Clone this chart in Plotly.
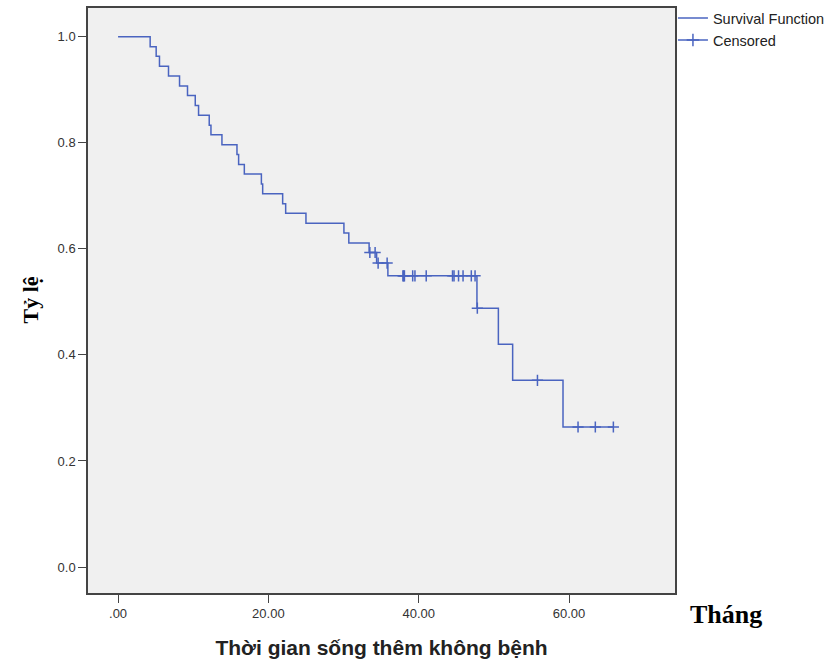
import plotly.graph_objects as go

# Kaplan-Meier step curve (time in months, survival proportion)
step_times = [0, 4.27, 5.07, 5.51, 6.71, 8.18, 9.24, 10.27, 10.71, 12.13, 12.36, 13.82,
              15.82, 16.04, 16.8, 19.07, 19.24, 21.9, 22.3, 25.0, 30.05, 30.7, 33.4,
              34.4, 35.9, 47.75, 50.6, 52.5, 59.2, 65.9]
step_surv = [1.0, 0.981, 0.963, 0.944, 0.926, 0.907, 0.889, 0.870, 0.852, 0.833, 0.815, 0.796,
             0.778, 0.759, 0.741, 0.722, 0.704, 0.685, 0.667, 0.648, 0.630, 0.611, 0.593,
             0.573, 0.549, 0.488, 0.420, 0.352, 0.264, 0.264]

# Censored observations
cens_times = [33.5, 34.2, 34.6, 35.8, 37.9, 38.0, 38.1, 39.2, 39.5, 41.0, 44.5, 44.7,
              45.3, 45.9, 47.0, 47.5, 47.8, 55.8, 61.2, 63.5, 65.9]
cens_surv = [0.593, 0.593, 0.573, 0.573, 0.549, 0.549, 0.549, 0.549, 0.549, 0.549, 0.549, 0.549,
             0.549, 0.549, 0.549, 0.549, 0.488, 0.352, 0.264, 0.264, 0.264]

x_tickvals = [0, 20, 40, 60]
x_ticktext = [".00", "20.00", "40.00", "60.00"]
y_tickvals = [0.0, 0.2, 0.4, 0.6, 0.8, 1.0]

BLUE = "#4a64c0"

fig = go.Figure()
fig.add_trace(go.Scatter(
    x=step_times, y=step_surv, mode="lines", line_shape="hv",
    line=dict(color=BLUE, width=1.5), name="Survival Function"))
fig.add_trace(go.Scatter(
    x=cens_times, y=cens_surv, mode="markers",
    marker=dict(symbol="cross-thin", size=8, line=dict(color=BLUE, width=1.5)),
    name="Censored", showlegend=False))
fig.add_trace(go.Scatter(
    x=[None], y=[None], mode="lines+markers",
    line=dict(color=BLUE, width=1.5),
    marker=dict(symbol="cross-thin", size=9, line=dict(color=BLUE, width=1.5)),
    name="Censored"))

axis_common = dict(showline=True, mirror=True, linecolor="#444444", linewidth=1.5,
                   ticks="outside", ticklen=8, tickcolor="#444444", showgrid=False,
                   zeroline=False, tickfont=dict(family="Liberation Sans, Arial", size=13, color="#333333"))

fig.update_layout(
    width=831, height=664,
    margin=dict(l=88, r=156, t=8, b=71, autoexpand=False),
    paper_bgcolor="white", plot_bgcolor="#f0f0f0",
    xaxis=dict(range=[-4.0, 74.1], tickvals=x_tickvals, ticktext=x_ticktext,
               title=dict(text="<b>Thời gian sống thêm không bệnh</b>", standoff=20,
                          font=dict(family="Liberation Sans, Arial", size=21, color="#222222")),
               **axis_common),
    yaxis=dict(range=[-0.049, 1.054], tickvals=y_tickvals, tickformat=".1f", **axis_common),
    legend=dict(x=0.9965, y=1.01, xanchor="left", yanchor="top", bgcolor="rgba(0,0,0,0)",
                font=dict(family="Liberation Sans, Arial", size=14.5, color="#222222"),
                itemwidth=30, tracegroupgap=0),
    annotations=[
        dict(text="<b>Tỷ lệ</b>", xref="paper", yref="paper", x=-(88 - 30) / 587, y=0.5,
             textangle=-90, showarrow=False, xanchor="center", yanchor="middle",
             font=dict(family="Liberation Serif, Times New Roman", size=22, color="black")),
        dict(text="<b>Tháng</b>", xref="paper", yref="paper", x=(726 - 88) / 587,
             y=-(614 - 593) / 585, showarrow=False, xanchor="center", yanchor="middle",
             font=dict(family="Liberation Serif, Times New Roman", size=26, color="black")),
    ],
)

fig.write_html("out.html")
